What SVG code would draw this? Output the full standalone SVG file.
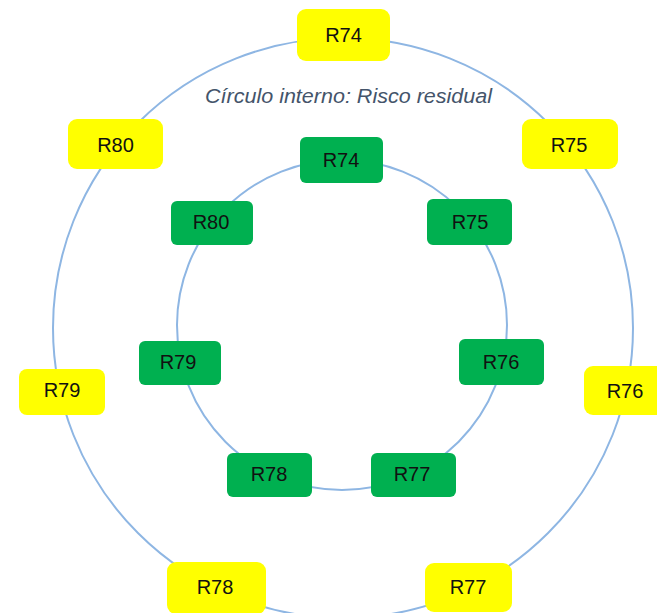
<svg xmlns="http://www.w3.org/2000/svg" width="657" height="613" viewBox="0 0 657 613">
<style>
.ring{fill:none;stroke:#8EB6E3;stroke-width:2}
.y{fill:#FFFF00}
.g{fill:#00B050}
.t{font-family:"Liberation Sans",Arial,sans-serif;font-size:20px;fill:#111;text-anchor:middle}
.cap{font-family:"Liberation Sans",Arial,sans-serif;font-size:20px;font-style:italic;fill:#44546A}
</style>
<rect width="657" height="613" fill="#fff"/>
<g id="connectors">
<circle class="ring" cx="343" cy="328" r="290"/>
<circle class="ring" cx="342" cy="325" r="165"/>
</g>
<text class="cap" x="205" y="103" textLength="287" lengthAdjust="spacingAndGlyphs">Círculo interno: Risco residual</text>
<g id="outer-R74"><rect class="y" x="297" y="9" width="93" height="52" rx="9"/><text class="t" x="343.5" y="42">R74</text></g>
<g id="outer-R75"><rect class="y" x="522" y="119" width="96" height="50" rx="9"/><text class="t" x="569" y="152">R75</text></g>
<g id="outer-R76"><rect class="y" x="584" y="366" width="82" height="49" rx="9"/><text class="t" x="625" y="398">R76</text></g>
<g id="outer-R77"><rect class="y" x="425" y="563" width="87" height="49" rx="9"/><text class="t" x="468" y="594">R77</text></g>
<g id="outer-R78"><rect class="y" x="167" y="562" width="99" height="52" rx="9"/><text class="t" x="215" y="594">R78</text></g>
<g id="outer-R79"><rect class="y" x="19" y="369" width="86" height="46" rx="8"/><text class="t" x="62" y="397">R79</text></g>
<g id="outer-R80"><rect class="y" x="68" y="119" width="95" height="50" rx="9"/><text class="t" x="115.5" y="152">R80</text></g>
<g id="inner-R74"><rect class="g" x="300" y="137" width="83" height="46" rx="6"/><text class="t" x="341" y="167">R74</text></g>
<g id="inner-R75"><rect class="g" x="427" y="199" width="85" height="46" rx="6"/><text class="t" x="470" y="229">R75</text></g>
<g id="inner-R76"><rect class="g" x="459" y="339" width="85" height="46" rx="6"/><text class="t" x="501" y="369">R76</text></g>
<g id="inner-R77"><rect class="g" x="371" y="453" width="85" height="44" rx="6"/><text class="t" x="412" y="481">R77</text></g>
<g id="inner-R78"><rect class="g" x="227" y="453" width="85" height="44" rx="6"/><text class="t" x="269" y="481">R78</text></g>
<g id="inner-R79"><rect class="g" x="139" y="341" width="82" height="44" rx="6"/><text class="t" x="178" y="369">R79</text></g>
<g id="inner-R80"><rect class="g" x="171" y="201" width="82" height="44" rx="6"/><text class="t" x="211" y="229">R80</text></g>
</svg>
